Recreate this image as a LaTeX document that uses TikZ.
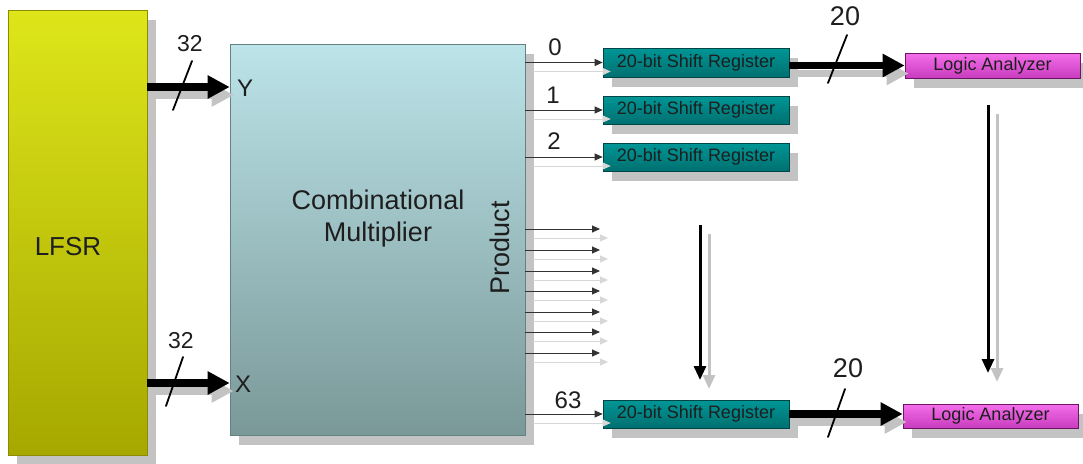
\documentclass[tikz,border=0pt]{standalone}
\usepackage{fontspec}
\setmainfont{Liberation Sans}
\usetikzlibrary{arrows.meta,shadows,calc}
\definecolor{txt}{RGB}{30,30,30}
\definecolor{shd}{RGB}{195,195,195}
\definecolor{shdl}{RGB}{215,215,215}
\tikzset{
  fs/.style={font={\fontsize{#1}{#1}\selectfont}},
  box/.style={draw, line width=0.6pt, inner sep=0pt,
    drop shadow={shadow xshift=9pt, shadow yshift=-10pt, fill=shd, opacity=1}},
  lfsrbox/.style={box, draw={rgb,255:red,140;green,140;blue,0}, top color={rgb,255:red,222;green,230;blue,26}, bottom color={rgb,255:red,166;green,168;blue,0}},
  multbox/.style={box, draw={rgb,255:red,100;green,130;blue,130}, top color={rgb,255:red,188;green,228;blue,233}, bottom color={rgb,255:red,122;green,152;blue,152}},
  srbox/.style={box, draw={rgb,255:red,0;green,70;blue,70}, top color={rgb,255:red,0;green,150;blue,150}, bottom color={rgb,255:red,0;green,112;blue,112},
    minimum width=186pt, text=txt, fs=18},
  labox/.style={box, draw={rgb,255:red,110;green,20;blue,100}, top color={rgb,255:red,245;green,110;blue,235}, bottom color={rgb,255:red,200;green,60;blue,190},
    minimum width=175pt, text=txt, fs=18},
  buswire/.style={line width=7.5pt, -{Triangle[length=22pt,width=22pt]}},
  buswireshadow/.style={buswire, draw=shd, transform canvas={xshift=4pt,yshift=-8pt}},
  thinwire/.style={line width=0.9pt, draw={rgb,255:red,50;green,50;blue,50}, -{Triangle[length=8pt,width=7pt]}},
  thinshadow/.style={thinwire, draw=shdl, transform canvas={xshift=8pt,yshift=-9pt}},
  vwire/.style={line width=3pt, -{Triangle[length=14pt,width=12pt]}},
  vshadow/.style={vwire, draw=shd, transform canvas={xshift=9pt,yshift=-9pt}},
  slash/.style={line width=1.8pt, line cap=round},
  lbl/.style={text=txt, inner sep=0pt}
}
\begin{document}
\begin{tikzpicture}[x=1pt,y=-1pt]
\useasboundingbox (0,0) rectangle (1083,463);

% boxes
\node[lfsrbox, minimum width=139pt, minimum height=445pt] (lfsr) at (77.5,232.5) {};
\node[lbl, fs=26] (lfsrt) at (68,247) {LFSR};
\node[multbox, minimum width=295pt, minimum height=391pt] (mult) at (377.5,239.5) {};
\node[lbl, fs=27, align=center] (multt) at (378,219) {Combinational\\[5pt]Multiplier};
\node[lbl, fs=27, rotate=90] (prod) at (500,248) {Product};

\node[srbox, minimum height=29pt] (sr0) at (696,62.5) {20-bit Shift Register};
\node[srbox, minimum height=28pt] (sr1) at (696,110) {20-bit Shift Register};
\node[srbox, minimum height=28pt] (sr2) at (696,157) {20-bit Shift Register};
\node[srbox, minimum height=28pt] (sr63) at (696,414) {20-bit Shift Register};

\node[labox, minimum height=25pt] (la0) at (992.5,65.5) {Logic Analyzer};
\node[labox, minimum height=24pt] (la1) at (990.5,416) {Logic Analyzer};

% inputs to multiplier
\coordinate (yin) at (230,87);
\coordinate (xin) at (230,383);
\draw[buswireshadow] (lfsr.east |- yin) -- (mult.west |- yin);
\draw[buswireshadow] (lfsr.east |- xin) -- (mult.west |- xin);
\draw[buswire] (lfsr.east |- yin) -- (mult.west |- yin);
\draw[buswire] (lfsr.east |- xin) -- (mult.west |- xin);
\node[lbl, fs=24, anchor=west] (ylab) at (237,88) {Y};
\node[lbl, fs=24, anchor=west] (xlab) at (235,384) {X};
\draw[slash] (173,110) -- (192,61);
\draw[slash] (166,406) -- (183,357);
\node[lbl, fs=23] (n32a) at (190,44) {32};
\node[lbl, fs=23] (n32b) at (181,341) {32};

% outputs to shift registers
\foreach \r in {sr0,sr1,sr2,sr63}{
  \draw[thinshadow] (mult.east |- \r) -- (\r.west);
}
\foreach \r in {sr0,sr1,sr2,sr63}{
  \draw[thinwire] (mult.east |- \r) -- (\r.west);
}
\node[lbl, fs=24] (b0) at (555,47) {0};
\node[lbl, fs=24] (b1) at (553,95) {1};
\node[lbl, fs=24] (b2) at (554,141) {2};
\node[lbl, fs=24] (b63) at (568,400) {63};

% fan of product bits
\foreach \i/\yy in {1/229,2/250,3/271,4/291,5/312,6/332,7/353}{
  \coordinate (f\i) at (600,\yy);
  \draw[thinshadow] (f\i -| mult.east) -- (f\i);
}
\foreach \i in {1,...,7}{
  \draw[thinwire] (f\i -| mult.east) -- (f\i);
}

% vertical arrows
\coordinate (va) at (700,225);
\coordinate (vb) at (700,380);
\coordinate (vc) at (988,105);
\coordinate (vd) at (988,373);
\draw[vshadow] (va) -- (vb);
\draw[vshadow] (vc) -- (vd);
\draw[vwire] (va) -- (vb);
\draw[vwire] (vc) -- (vd);

% registers to logic analyzers
\draw[buswireshadow] (sr0.east |- la0.west) -- (la0.west);
\draw[buswireshadow] (sr63.east) -- (sr63.east -| la1.west);
\draw[buswire] (sr0.east |- la0.west) -- (la0.west);
\draw[buswire] (sr63.east) -- (sr63.east -| la1.west);
\draw[slash] (828,83) -- (847,35);
\draw[slash] (828,437) -- (845,389);
\node[lbl, fs=27] (n20a) at (845,16) {20};
\node[lbl, fs=27] (n20b) at (848,368) {20};
\end{tikzpicture}
\end{document}
